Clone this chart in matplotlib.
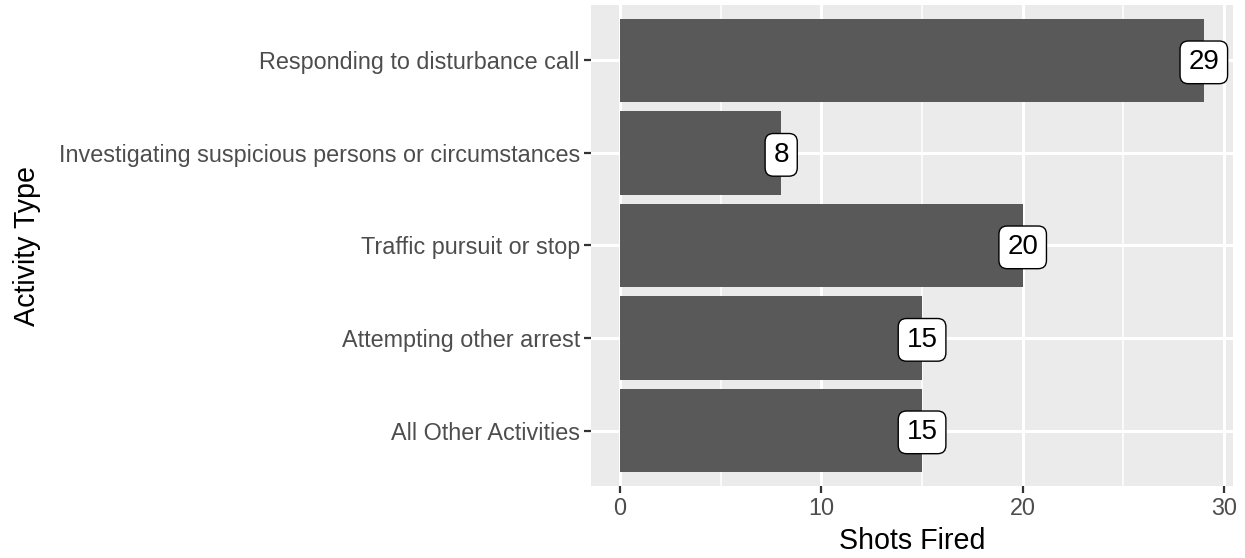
import matplotlib.pyplot as plt
import numpy as np

plt.rcParams['font.family'] = ['Liberation Sans', 'DejaVu Sans']

# bottom to top, as drawn
activities = ['All Other Activities',
              'Attempting other arrest',
              'Traffic pursuit or stop',
              'Investigating suspicious persons or circumstances',
              'Responding to disturbance call']
shots_fired = [15, 15, 20, 8, 29]

panel_bg = '#EBEBEB'
bar_color = '#595959'
text_grey = '#4D4D4D'
tick_grey = '#333333'


def main():
    fig = plt.figure(figsize=(12.45, 5.58), dpi=100)
    ax = fig.add_axes([591 / 1245, 72 / 558, 642 / 1245, 481 / 558])
    ax.set_facecolor(panel_bg)

    y = np.arange(1, len(activities) + 1)
    ax.barh(y, shots_fired, height=0.9, color=bar_color, zorder=3)

    for yi, v in zip(y, shots_fired):
        ax.text(v, yi - 0.02, str(v), ha='center', va='center', fontsize=20, color='black', zorder=5,
                bbox=dict(boxstyle='round,pad=0.3,rounding_size=0.3', fc='white', ec='black', lw=1.0))

    xmax = max(shots_fired)
    ax.set_xlim(-0.05 * xmax, xmax * 1.05)
    ax.set_ylim(0.4, len(activities) + 0.6)

    ax.set_xticks([0, 10, 20, 30])
    ax.set_xticks([5, 15, 25], minor=True)
    ax.set_yticks(y, activities)

    ax.grid(True, which='major', color='white', linewidth=2.2, zorder=0)
    ax.grid(True, which='minor', axis='x', color='white', linewidth=1.1, zorder=0)
    ax.set_axisbelow(True)

    ax.tick_params(axis='both', which='major', length=5, width=1.6, color=tick_grey,
                   labelcolor=text_grey, labelsize=16.8, pad=3)
    ax.tick_params(axis='both', which='minor', length=0)

    for s in ax.spines.values():
        s.set_visible(False)

    ax.set_xlabel('Shots Fired', fontsize=20.6, color='black', labelpad=5)
    ax.set_ylabel('Activity Type', fontsize=20.6, color='black', labelpad=13)

    plt.savefig('out.png', dpi=100)


if __name__ == '__main__':
    main()
